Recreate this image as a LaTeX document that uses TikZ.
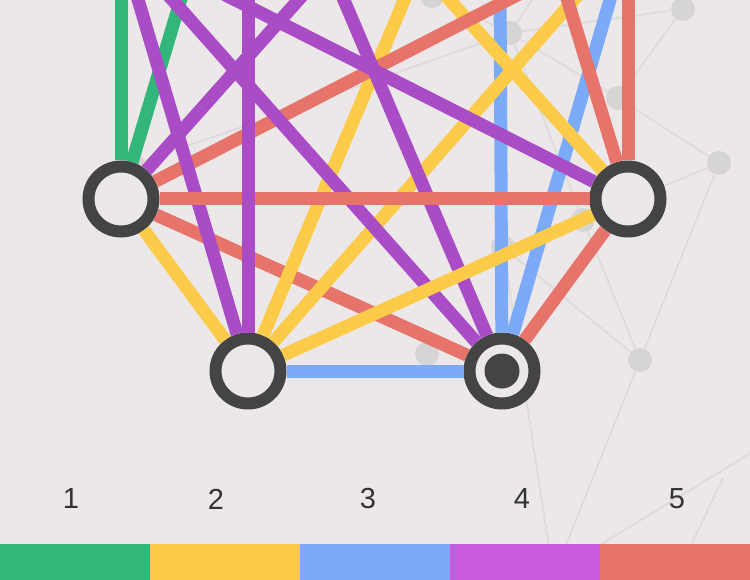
\documentclass[tikz,border=0pt]{standalone}
\usepackage{fontspec}
\setmainfont{Liberation Sans}
\usepackage{xcolor}
\usepackage{tikz}

\definecolor{bgcol}{HTML}{ECE8E9}
\definecolor{ringcol}{HTML}{444444}
\definecolor{netcol}{HTML}{DEDBDC}
\definecolor{dotcol}{HTML}{D6D4D5}
\definecolor{numcol}{HTML}{333333}
\definecolor{cgreen}{HTML}{33B679}
\definecolor{cyellow}{HTML}{FCCB4A}
\definecolor{cblue}{HTML}{7BABF8}
\definecolor{cpurple}{HTML}{AB4CC7}
\definecolor{cred}{HTML}{E6746A}
\definecolor{barpurple}{HTML}{C85AE0}

\begin{document}
\begin{tikzpicture}[
    x=1pt, y=-1pt,
    vert/.style={circle, draw=ringcol, line width=12pt, fill=bgcol,
        minimum size=65pt, inner sep=0pt},
    hub/.style={circle, fill=ringcol, minimum size=35pt, inner sep=0pt},
    link/.style={line width=13pt, draw=#1},
    net/.style={draw=netcol, line width=1.8pt},
    netdot/.style={circle, fill=dotcol, minimum size=24pt, inner sep=0pt},
    keybar/.style={fill=#1, minimum width=150pt, minimum height=36pt,
        inner sep=0pt, anchor=north west},
    num/.style={font=\fontsize{29}{29}\selectfont, text=numcol},
]
\useasboundingbox (0,0) rectangle (750,580);
\clip (0,0) rectangle (750,580);
\fill[bgcol] (0,0) rectangle (750,580);

%% background network
\node[netdot] (g1)  at (432,-4)  {};
\node[netdot] (g2)  at (510,33)  {};
\node[netdot] (g3)  at (683,9)   {};
\node[netdot] (g4)  at (618,98)  {};
\node[netdot] (g5)  at (719,163) {};
\node[netdot] (g6)  at (583,220) {};
\node[netdot] (g7)  at (503,247) {};
\node[netdot] (g8)  at (640,360) {};
\node[netdot] (g9)  at (427,354) {};
\node[netdot] (g10) at (133,165) {};
\coordinate (gx1) at (552,-30);
\coordinate (gx2) at (544,600);
\coordinate (gx3) at (557,600);
\coordinate (gx4) at (790,429);
\coordinate (gx5) at (510,600);
\coordinate (gx6) at (723,478);
\coordinate (gx7) at (665,600);
\draw[net] (g10) -- (g2);
\draw[net] (g1) -- (g2);
\draw[net] (g2) -- (gx1);
\draw[net] (g2) -- (g3);
\draw[net] (g2) -- (g4);
\draw[net] (g2) -- (g6);
\draw[net] (g3) -- (g4);
\draw[net] (g4) -- (g5);
\draw[net] (g5) -- (g6);
\draw[net] (g5) -- (g8);
\draw[net] (g6) -- (g8);
\draw[net] (g7) -- (g8);
\draw[net] (g8) -- (gx2);
\draw[net] (g7) -- (gx3);
\draw[net] (gx4) -- (gx5);
\draw[net] (gx6) -- (gx7);

%% vertices
\node[vert] (q1) at (121,199) {};
\node[vert] (q2) at (248,371) {};
\node[vert] (q3) at (502,371) {};
\node[vert] (q4) at (628,199) {};
\node[hub]  (q3hub) at (q3) {};
\coordinate (q5) at (628,-62);
\coordinate (q6) at (499,-225);
\coordinate (q7) at (248,-225);
\coordinate (q8) at (121,-58);

%% edges, lowest first
\draw[link=cgreen] (q1) -- (q8);
\draw[link=cgreen] (q1) -- (q7);
\draw[link=cblue] (q3) -- (q6);
\draw[link=cblue] (q3) -- (q5);
\draw[link=cblue] (q2) -- (q3);
\draw[link=cred] (q1) -- (q3);
\draw[link=cyellow] (q1) -- (q2);
\draw[link=cyellow] (q2) -- (q6);
\draw[link=cyellow] (q2) -- (q5);
\draw[link=cyellow] (q4) -- (q7);
\draw[link=cred] (q1) -- (q5);
\draw[link=cred] (q4) -- (q6);
\draw[link=cred] (q4) -- (q5);
\draw[link=cred] (q4) -- (q3);
\draw[link=cpurple] (q1) -- (q6);
\draw[link=cpurple] (q2) -- (q8);
\draw[link=cpurple] (q3) -- (q8);
\draw[link=cpurple] (q3) -- (q7);
\draw[link=cpurple] (q4) -- (q8);
\draw[link=cyellow] (q2) -- (q4);
\draw[link=cred] (q1) -- (q4);
\draw[link=cpurple] (q2) -- (q7);

%% colour key
\node[num] (n1) at (71,499)  {1};
\node[num] (n2) at (216,499) {2};
\node[num] (n3) at (368,499) {3};
\node[num] (n4) at (522,499) {4};
\node[num] (n5) at (677,499) {5};
\node[keybar=cgreen]    (b1) at (0,544)   {};
\node[keybar=cyellow]   (b2) at (150,544) {};
\node[keybar=cblue]     (b3) at (300,544) {};
\node[keybar=barpurple] (b4) at (450,544) {};
\node[keybar=cred]      (b5) at (600,544) {};
\end{tikzpicture}
\end{document}
